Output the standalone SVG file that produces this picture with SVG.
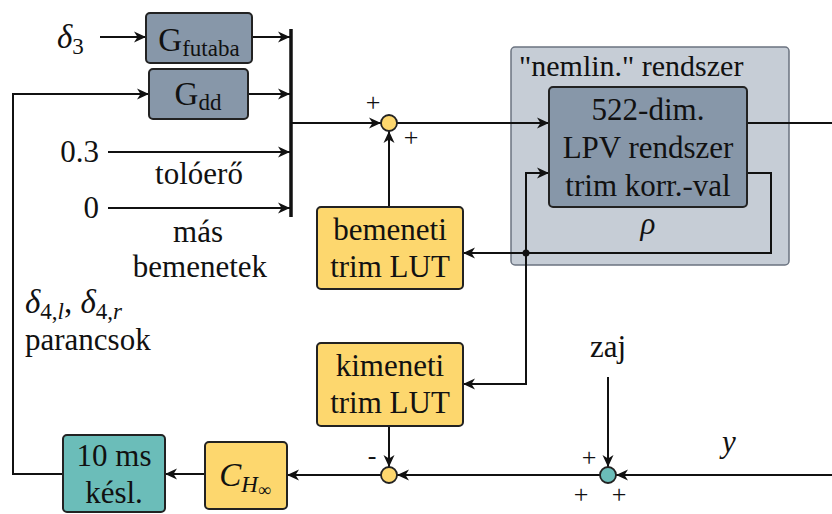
<svg xmlns="http://www.w3.org/2000/svg" width="832" height="514" viewBox="0 0 832 514">
<style>
.line{fill:none;stroke:#111;stroke-width:2}
.arr{marker-end:url(#ah)}
.box{stroke:#222;stroke-width:2}
.slate{fill:#8797a9}
.yel{fill:#fdd76e}
.teal{fill:#6bbdb9}
</style>
<defs>
<marker id="ah" markerUnits="userSpaceOnUse" markerWidth="14" markerHeight="12" refX="12" refY="6" orient="auto">
<path d="M0,0.5 L12,6 L0,11.5 L3.5,6 z" fill="#111"/>
</marker>
</defs>

<g id="nemlin">
<rect x="511" y="47" width="278" height="218" rx="4" fill="#c6cdd6" stroke="#6b7380" stroke-width="1.5"/>
<text font-family="Liberation Serif" font-size="30" fill="#111" x="519" y="76">"nemlin." rendszer</text>
<text font-family="Liberation Serif" font-size="31" fill="#111" font-style="italic" text-anchor="middle" x="648" y="234">ρ</text>
</g>

<g id="connectors">
<polyline class="line arr" points="100,37 146,37"/>
<polyline class="line arr" points="252,37 290,37"/>
<polyline class="line arr" points="63,474 13,474 13,94 149,94"/>
<polyline class="line arr" points="248,94 290,94"/>
<polyline class="line arr" points="108,152 290,152"/>
<polyline class="line arr" points="108,208 290,208"/>
<line x1="291" y1="29" x2="291" y2="217" stroke="#111" stroke-width="3.5"/>
<polyline class="line arr" points="292,123 381,123"/>
<polyline class="line arr" points="397,123 549,123"/>
<polyline class="line" points="747,123 832,123"/>
<polyline class="line arr" points="747,173 771,173 771,253 463,253"/>
<polyline class="line arr" points="526,253 526,173 549,173"/>
<polyline class="line arr" points="526,253 526,384 463,384"/>
<circle cx="526" cy="253" r="3.5" fill="#111"/>
<polyline class="line arr" points="389,207 389,131"/>
<polyline class="line arr" points="389,426 389,467"/>
<polyline class="line arr" points="832,475 616,475"/>
<polyline class="line arr" points="608,377 608,467"/>
<polyline class="line arr" points="600,475 397,475"/>
<polyline class="line arr" points="381,475 287,475"/>
<polyline class="line arr" points="205,474 165,474"/>
</g>

<g id="gfutaba">
<rect class="box slate" x="146" y="13" width="106" height="50" rx="4"/>
<text font-family="Liberation Serif" font-size="33" fill="#111" text-anchor="middle" x="199" y="51">G<tspan font-size="23" dy="5">futaba</tspan></text>
</g>
<g id="gdd">
<rect class="box slate" x="149" y="69" width="99" height="50" rx="4"/>
<text font-family="Liberation Serif" font-size="33" fill="#111" text-anchor="middle" x="198" y="105">G<tspan font-size="23" dy="5">dd</tspan></text>
</g>
<g id="lpv">
<rect class="box slate" x="549" y="87" width="198" height="120" rx="4"/>
<text font-family="Liberation Serif" font-size="31" fill="#111" text-anchor="middle" x="648" y="120">522-dim.</text>
<text font-family="Liberation Serif" font-size="31" fill="#111" text-anchor="middle" x="648" y="158">LPV rendszer</text>
<text font-family="Liberation Serif" font-size="31" fill="#111" text-anchor="middle" x="648" y="196">trim korr.-val</text>
</g>
<g id="sum1">
<circle cx="389" cy="123" r="8" fill="#fdd76e" stroke="#222" stroke-width="1.8"/>
<text font-family="Liberation Serif" font-size="26" fill="#111" text-anchor="middle" x="373" y="111">+</text>
<text font-family="Liberation Serif" font-size="26" fill="#111" text-anchor="middle" x="411" y="146">+</text>
</g>
<g id="bemeneti">
<rect class="box yel" x="317" y="207" width="146" height="82" rx="4"/>
<text font-family="Liberation Serif" font-size="31" fill="#111" text-anchor="middle" x="390" y="240">bemeneti</text>
<text font-family="Liberation Serif" font-size="31" fill="#111" text-anchor="middle" x="390" y="277">trim LUT</text>
</g>
<g id="kimeneti">
<rect class="box yel" x="317" y="343" width="146" height="83" rx="4"/>
<text font-family="Liberation Serif" font-size="31" fill="#111" text-anchor="middle" x="390" y="376">kimeneti</text>
<text font-family="Liberation Serif" font-size="31" fill="#111" text-anchor="middle" x="390" y="413">trim LUT</text>
</g>
<g id="sum2">
<circle cx="389" cy="475" r="8" fill="#fdd76e" stroke="#222" stroke-width="1.8"/>
<text font-family="Liberation Serif" font-size="26" fill="#111" text-anchor="middle" x="372" y="464">-</text>
</g>
<g id="sum3">
<circle cx="608" cy="475" r="8" fill="#6bbdb9" stroke="#222" stroke-width="1.8"/>
<text font-family="Liberation Serif" font-size="26" fill="#111" text-anchor="middle" x="589" y="466">+</text>
<text font-family="Liberation Serif" font-size="26" fill="#111" text-anchor="middle" x="581" y="503">+</text>
<text font-family="Liberation Serif" font-size="26" fill="#111" text-anchor="middle" x="619" y="503">+</text>
</g>
<g id="ch">
<rect class="box yel" x="205" y="442" width="82" height="67" rx="4"/>
<text font-family="Liberation Serif" font-size="33" fill="#111" text-anchor="middle" x="245" y="486"><tspan font-style="italic">C</tspan><tspan font-style="italic" font-size="23" dy="6">H</tspan><tspan font-size="18" dy="4">∞</tspan></text>
</g>
<g id="delay">
<rect class="box teal" x="63" y="435" width="102" height="77" rx="4"/>
<text font-family="Liberation Serif" font-size="31" fill="#111" text-anchor="middle" x="114" y="466">10 ms</text>
<text font-family="Liberation Serif" font-size="31" fill="#111" text-anchor="middle" x="114" y="503">késl.</text>
</g>

<g id="labels">
<text font-family="Liberation Serif" font-size="33" fill="#111" x="57" y="48"><tspan font-style="italic">δ</tspan><tspan font-size="23" dy="6">3</tspan></text>
<text font-family="Liberation Serif" font-size="31" fill="#111" text-anchor="end" x="99" y="162">0.3</text>
<text font-family="Liberation Serif" font-size="31" fill="#111" text-anchor="end" x="99" y="218">0</text>
<text font-family="Liberation Serif" font-size="31" fill="#111" text-anchor="middle" x="199" y="184">tolóerő</text>
<text font-family="Liberation Serif" font-size="31" fill="#111" text-anchor="middle" x="198" y="242">más</text>
<text font-family="Liberation Serif" font-size="31" fill="#111" text-anchor="middle" x="200" y="277">bemenetek</text>
<text font-family="Liberation Serif" font-size="33" fill="#111" x="25" y="313"><tspan font-style="italic">δ</tspan><tspan font-size="23" dy="6">4,</tspan><tspan font-style="italic" font-size="23">l</tspan><tspan dy="-6">, </tspan><tspan font-style="italic">δ</tspan><tspan font-size="23" dy="6">4,</tspan><tspan font-style="italic" font-size="23">r</tspan></text>
<text font-family="Liberation Serif" font-size="31" fill="#111" x="25" y="350">parancsok</text>
<text font-family="Liberation Serif" font-size="31" fill="#111" text-anchor="middle" x="608" y="357">zaj</text>
<text font-family="Liberation Serif" font-size="31" fill="#111" font-style="italic" text-anchor="middle" x="729" y="452">y</text>
</g>
</svg>
